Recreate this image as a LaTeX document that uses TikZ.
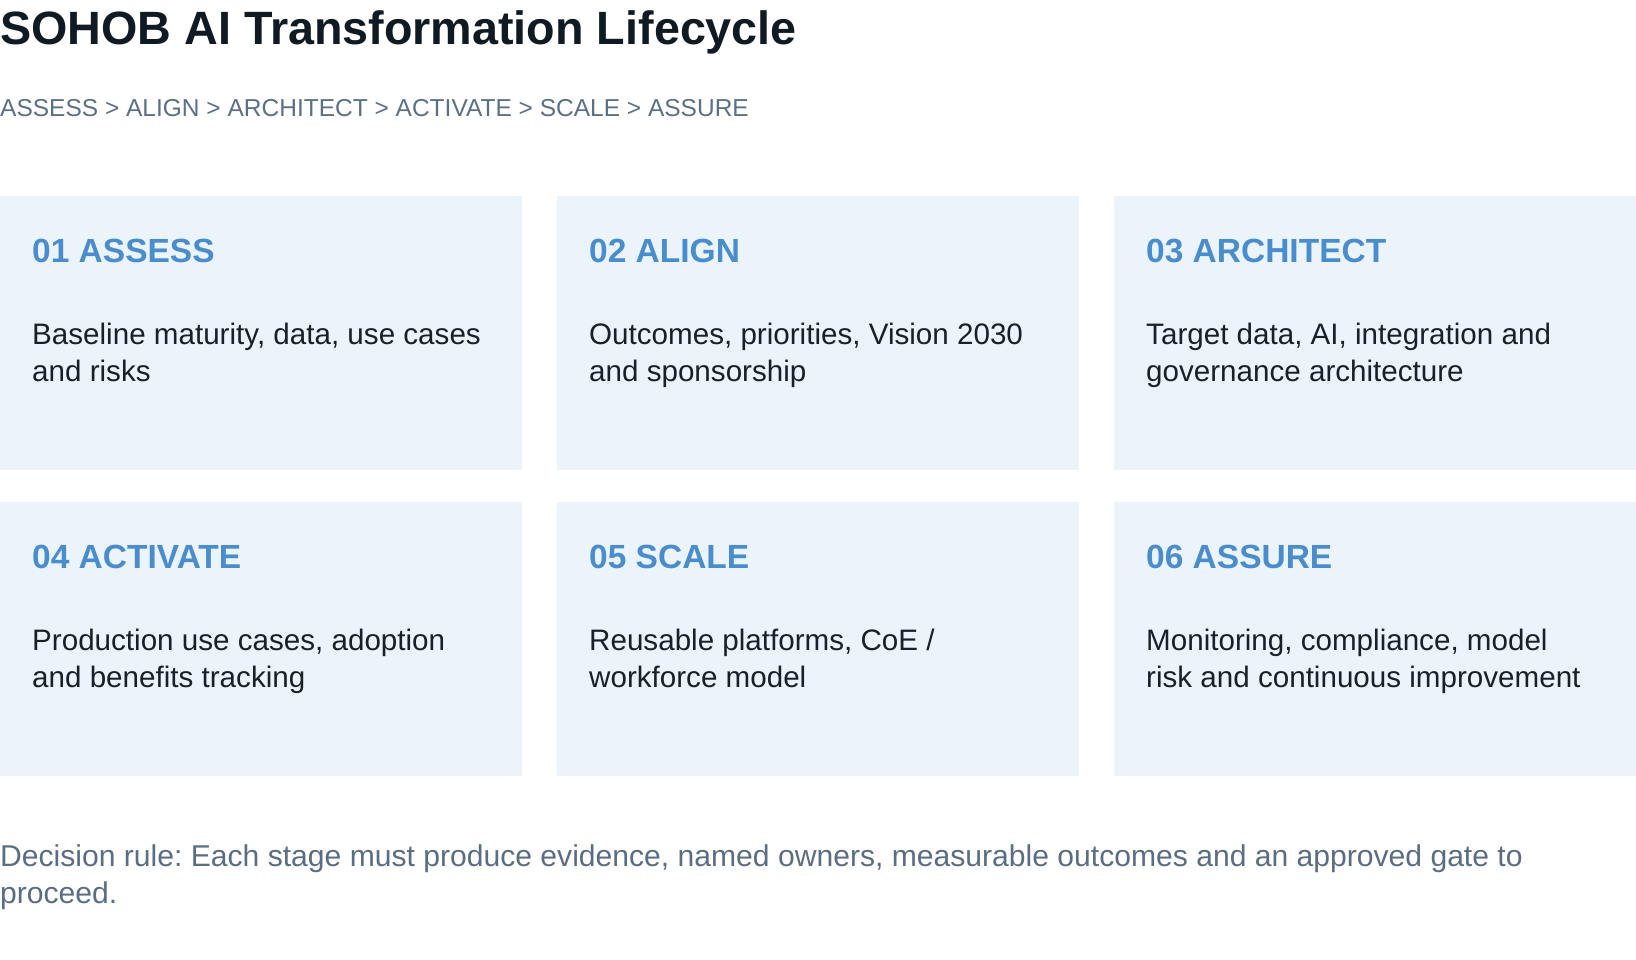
\documentclass[tikz,border=0pt]{standalone}
\usepackage{fontspec}
\setmainfont{Liberation Sans}
\usepackage{xcolor}
\usepackage{tikz}
\frenchspacing

\definecolor{cardfill}{HTML}{ECF4FB}
\definecolor{titleink}{HTML}{101A23}
\definecolor{subink}{HTML}{5B6F86}
\definecolor{headblue}{HTML}{4A8DCD}
\definecolor{bodyink}{HTML}{18202A}
\definecolor{footink}{HTML}{5B6D82}

\tikzset{
  card/.style={fill=cardfill, draw=none, inner sep=0pt, anchor=north west,
    minimum width=522pt, minimum height=274pt},
  cardhead/.style={anchor=base west, inner sep=0pt, text=headblue,
    font=\fontsize{33.5}{40}\selectfont\bfseries},
  cardbody/.style={anchor=base west, inner sep=0pt, text=bodyink, align=left,
    font=\fontsize{29.6}{37}\selectfont},
}

\begin{document}
\begin{tikzpicture}[x=1pt, y=-1pt]
        \useasboundingbox (0,0) rectangle (1636,960);

        % Title and stage line
        \node[anchor=base west, inner sep=0pt, text=titleink, font=\fontsize{46.7}{54}\selectfont\bfseries] (title) at (0,45) {SOHOB AI Transformation Lifecycle};
        \node[anchor=base west, inner sep=0pt, text=subink, font=\fontsize{24.5}{30}\selectfont] (stages) at (0,117) {ASSESS > ALIGN > ARCHITECT > ACTIVATE > SCALE > ASSURE};

        % Cards, top row
        \node[card] (assess) at (0,196) {};
        \node[card] (align) at (557,196) {};
        \node[card] (architect) at (1114,196) {};

        % Cards, bottom row
        \node[card] (activate) at (0,502) {};
        \node[card] (scale) at (557,502) {};
        \node[card] (assure) at (1114,502) {};

        % Card headings
        \node[cardhead] (assesshead) at (32,262) {01 ASSESS};
        \node[cardhead] (alignhead) at (589,262) {02 ALIGN};
        \node[cardhead] (architecthead) at (1146,262) {03 ARCHITECT};
        \node[cardhead] (activatehead) at (32,568) {04 ACTIVATE};
        \node[cardhead] (scalehead) at (589,568) {05 SCALE};
        \node[cardhead] (assurehead) at (1146,568) {06 ASSURE};

        % Card texts (base is the second line)
        \node[cardbody] (assessbody) at (32,381) {Baseline maturity, data, use cases\\and risks};
        \node[cardbody] (alignbody) at (589,381) {Outcomes, priorities, Vision 2030\\and sponsorship};
        \node[cardbody] (architectbody) at (1146,381) {Target data, AI, integration and\\governance architecture};
        \node[cardbody] (activatebody) at (32,687) {Production use cases, adoption\\and benefits tracking};
        \node[cardbody] (scalebody) at (589,687) {Reusable platforms, CoE /\\workforce model};
        \node[cardbody] (assurebody) at (1146,687) {Monitoring, compliance, model\\risk and continuous improvement};

        % Decision rule
        \node[anchor=base west, inner sep=0pt, text=footink, align=left, font=\fontsize{30.1}{37}\selectfont] (rule) at (0,903) {Decision rule: Each stage must produce evidence, named owners, measurable outcomes and an approved gate to\\proceed.};
\end{tikzpicture}
\end{document}
